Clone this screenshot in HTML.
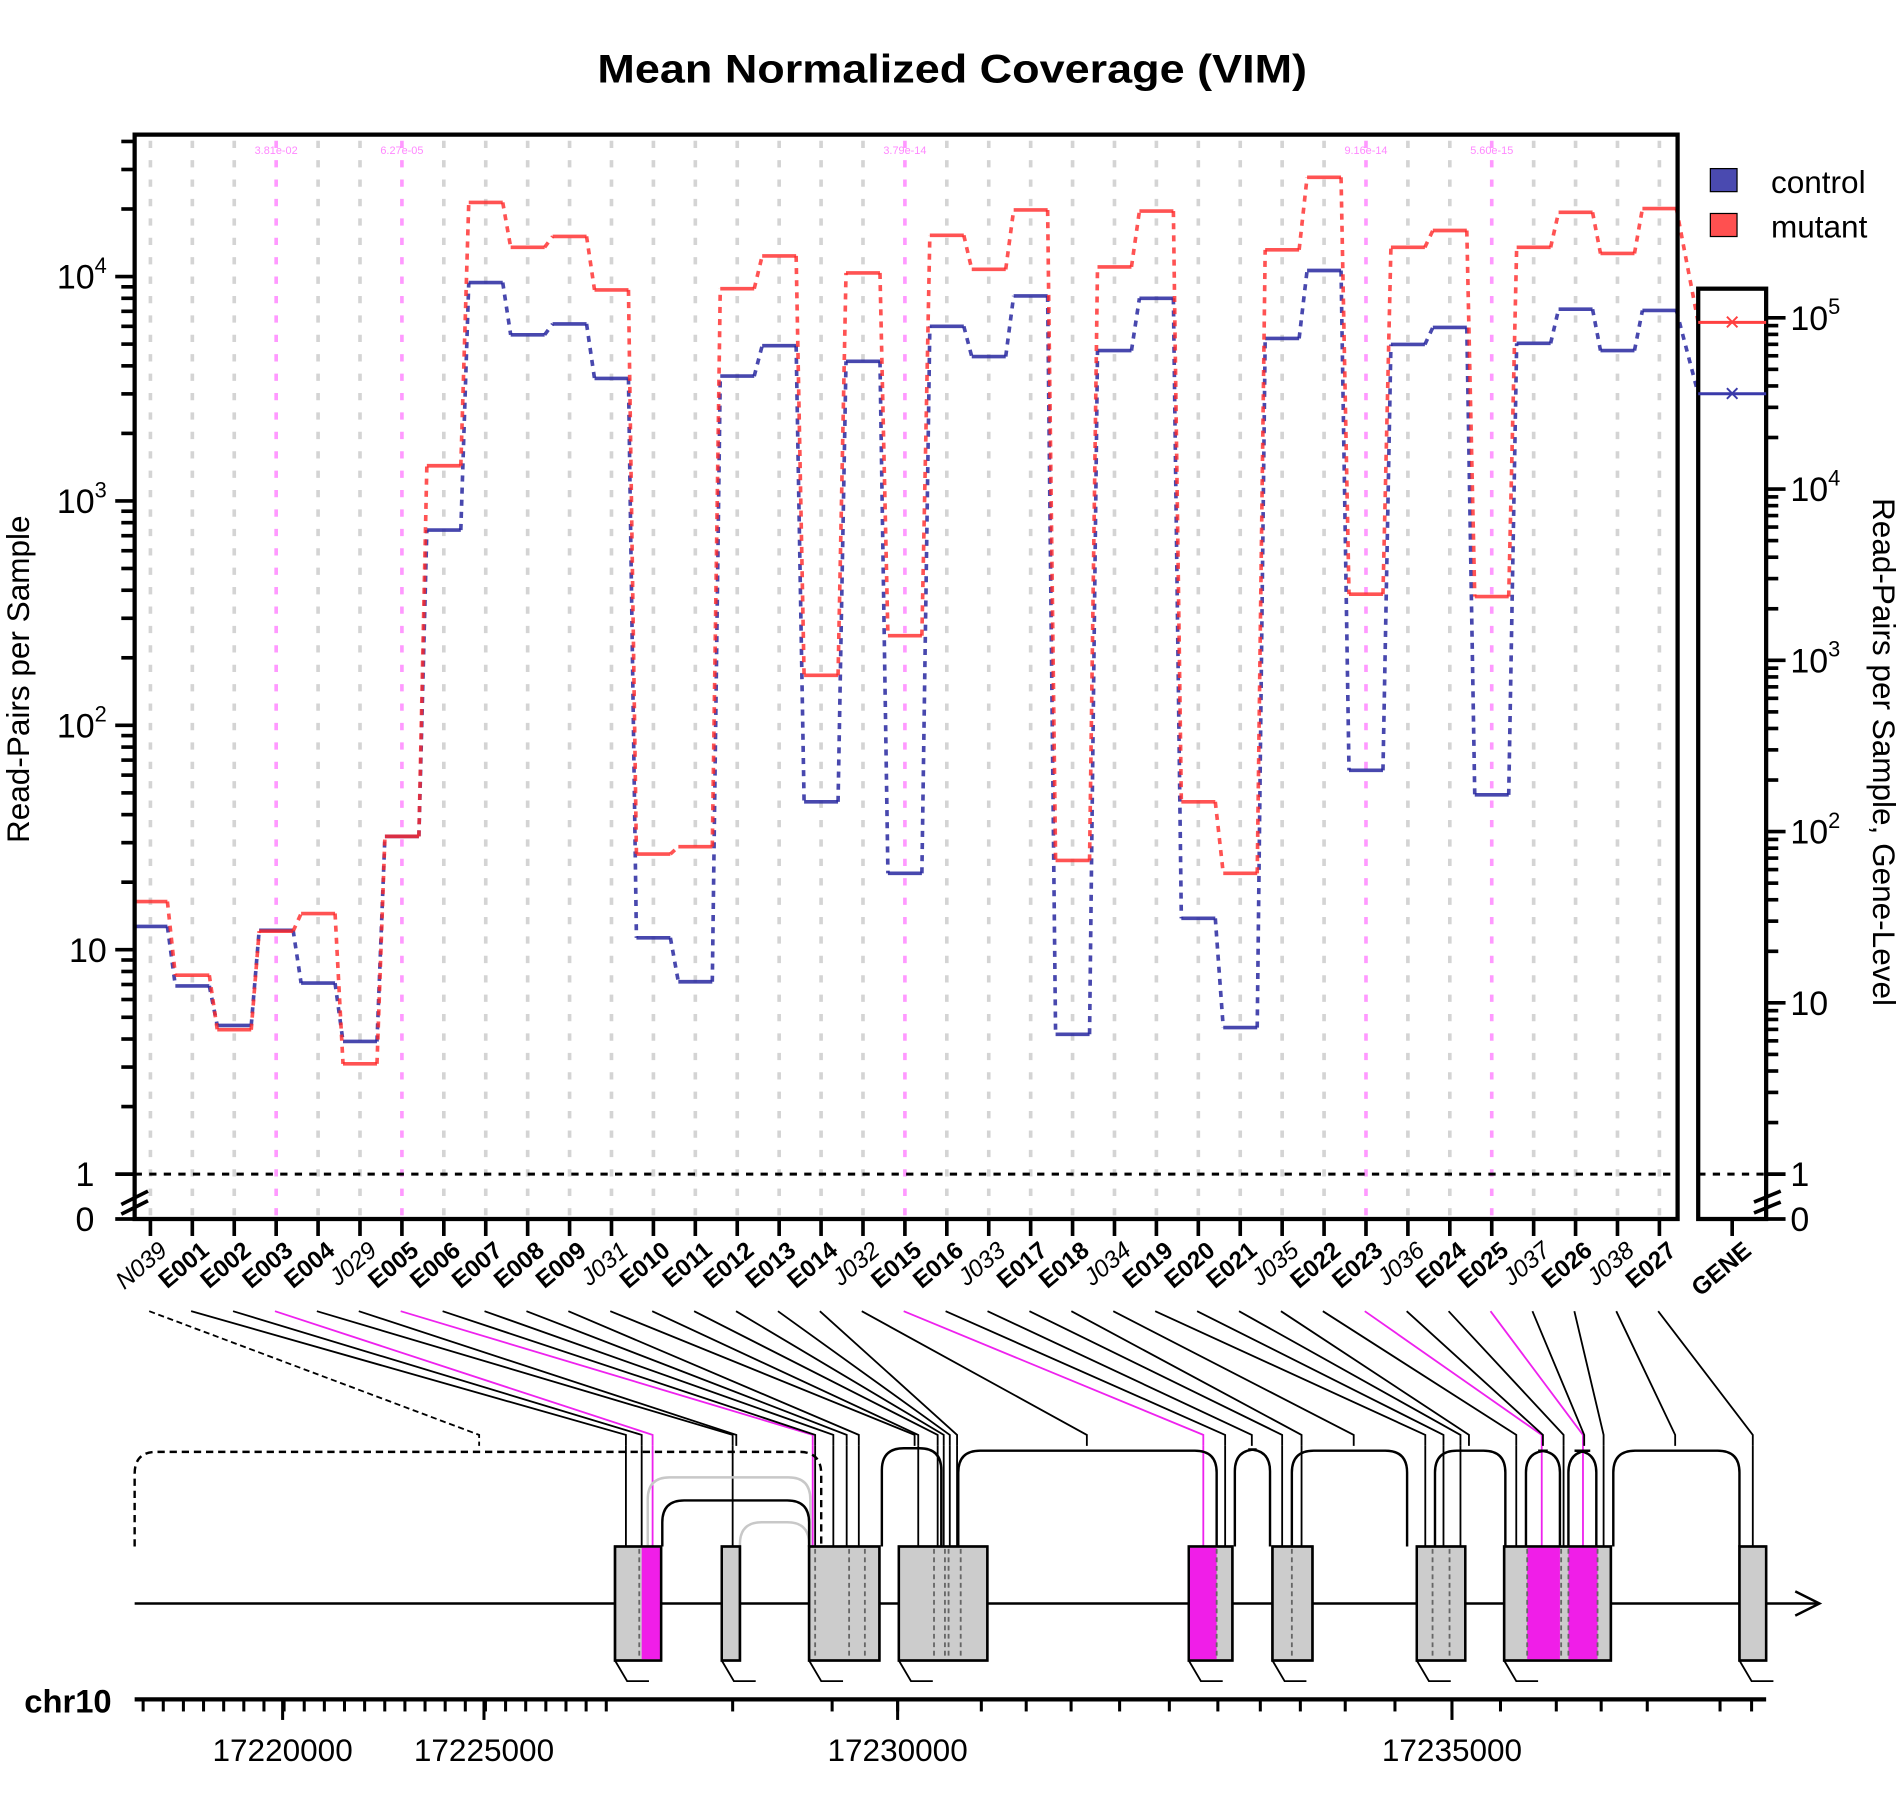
<!DOCTYPE html>
<html><head><meta charset="utf-8"><style>
html,body{margin:0;padding:0;background:#fff}
svg{display:block}
text{font-family:"Liberation Sans",Arial,sans-serif}
</style></head><body>
<svg id="c" width="1902" height="1800" viewBox="0 0 1568 1484" preserveAspectRatio="none" xmlns="http://www.w3.org/2000/svg">
<rect width="1568" height="1484" fill="#fff"/>
<text x="785" y="68" font-size="33" font-weight="bold" text-anchor="middle" textLength="585" lengthAdjust="spacingAndGlyphs">Mean Normalized Coverage (VIM)</text>
<text transform="translate(24,560) rotate(-90)" font-size="26" text-anchor="middle">Read-Pairs per Sample</text>
<text transform="translate(1544,620) rotate(90)" font-size="26" text-anchor="middle">Read-Pairs per Sample, Gene-Level</text>
<g>
<rect x="1410" y="139" width="22" height="19" fill="#4a4ab0" stroke="#000" stroke-width="1"/>
<text x="1460" y="159" font-size="26">control</text>
<rect x="1410" y="176" width="22" height="19" fill="#ff5050" stroke="#000" stroke-width="1"/>
<text x="1460" y="196" font-size="26">mutant</text>
</g>
<g id="plot"></g>
</svg>
<script>
const categories=["N039","E001","E002","E003","E004","J029","E005","E006","E007","E008","E009","J031","E010","E011","E012","E013","E014","J032","E015","E016","J033","E017","E018","J034","E019","E020","E021","J035","E022","E023","J036","E024","E025","J037","E026","J038","E027"];
const mutantValues=[16.4,7.7,4.4,12.1,14.5,3.1,32,1435,21400,13500,15100,8720,26.7,28.8,8830,12360,167,10380,251,15270,10770,19800,25,11040,19580,45.6,21.9,13150,27700,384,13500,16040,375,13500,19330,12670,20090];
const controlValues=[12.7,6.9,4.6,12.2,7.1,3.9,32,742,9400,5500,6150,3515,11.3,7.2,3600,4920,45.6,4190,21.9,6000,4400,8200,4.2,4680,8000,13.8,4.5,5300,10640,63,4980,5930,49,5040,7150,4680,7060];
const significant=["E003","E005","E015","E023","E025"];
const pValueLabels=["3.81e-02","6.27e-05","3.79e-14","9.16e-14","5.60e-15"];
const geneMutant=94000;
const geneControl=36000;
const leftTickLabels=["10","10²","10³","10⁴"];
const genomicTickLabels=["17220000","17225000","17230000","17235000"];

const NS="http://www.w3.org/2000/svg";
const P=document.getElementById('plot');
function mk(tag,attrs,parent){const e=document.createElementNS(NS,tag);for(const k in attrs)e.setAttribute(k,attrs[k]);(parent||P).appendChild(e);return e;}
const X0=124, DX=(1368-124)/36, PL=111, PR=1383, PT=111, PB=1005;
const xCol=i=>X0+i*DX;
const yL=v=>968-185*Math.log10(v);
const yR=v=>968-141.2*Math.log10(v);

categories.forEach((c,i)=>{
  const sig=significant.indexOf(c);
  const l=mk('line',{x1:xCol(i),x2:xCol(i),y1:116,y2:PB,stroke:sig>=0?'#ff99ff':'#d4d4d4','stroke-width':3,'stroke-dasharray':'6 10'});
  
  
  if(sig>=0){const t=mk('text',{x:xCol(i),y:127,'font-size':9,fill:'#ff88ff','text-anchor':'middle'});t.textContent=pValueLabels[sig];
    
    }
});
mk('line',{x1:PL,x2:PR,y1:968,y2:968,stroke:'#000','stroke-width':2.5,'stroke-dasharray':'6 6'});
mk('line',{x1:1400,x2:1456,y1:968,y2:968,stroke:'#000','stroke-width':2.5,'stroke-dasharray':'6 6'});

function series(vals,color,name){
  const g=mk('g',{});
  
  
  const w=14;
  vals.forEach((v,i)=>{
    const y=yL(v);
    const s=mk('line',{x1:xCol(i)-w,x2:xCol(i)+w,y1:y,y2:y,stroke:color,'stroke-width':3},g);
    
    
    if(i<vals.length-1){
      const y2=yL(vals[i+1]);
      const d=mk('line',{x1:xCol(i)+w,x2:xCol(i+1)-w,y1:y,y2:y2,stroke:color,'stroke-width':3,'stroke-dasharray':'5 5'},g);
      
      
    }
  });
  return g;
}
series(controlValues,'rgba(40,40,160,0.85)','control');
series(mutantValues,'rgba(255,40,40,0.8)','mutant');
mk('line',{x1:xCol(36)+14,y1:yL(mutantValues[36]),x2:1400,y2:yR(geneMutant),stroke:'rgba(255,40,40,0.8)','stroke-width':3,'stroke-dasharray':'5 5'});
mk('line',{x1:xCol(36)+14,y1:yL(controlValues[36]),x2:1400,y2:yR(geneControl),stroke:'rgba(40,40,160,0.85)','stroke-width':3,'stroke-dasharray':'5 5'});

const fr=mk('rect',{x:PL,y:PT,width:PR-PL,height:PB-PT,fill:'none',stroke:'#000','stroke-width':3.5});


const gf=mk('rect',{x:1400,y:238,width:56,height:PB-238,fill:'none',stroke:'#000','stroke-width':3.5});


[[geneMutant,'#ff4040','gene-mutant'],[geneControl,'#3a3aaa','gene-control']].forEach(([v,c,n])=>{
  const y=yR(v);
  const l=mk('line',{x1:1400,x2:1456,y1:y,y2:y,stroke:c,'stroke-width':2.5});
  
  
  const t=mk('text',{x:1428,y:y+7,'font-size':22,fill:c,'text-anchor':'middle'});t.textContent='×';
  
  
});

for(let d=0;d<5;d++){for(let m=1;m<10;m++){const v=Math.pow(10,d)*m;const y=yL(v);if(y<PT+5)continue;
  mk('line',{x1:m===1?95:100,x2:PL,y1:y,y2:y,stroke:'#000','stroke-width':3});}}
leftTickLabels.forEach((lab,k)=>{
  const y=yL(Math.pow(10,k+1));
  const t=mk('text',{x:88,y:y+10,'font-size':28,'text-anchor':'end'});
  if(k===0)t.textContent='10';else{t.textContent='10';const s=mk('tspan',{dy:-13,'font-size':18},t);s.textContent=String(k+1);}
  
  
});
[['1',968],['0',1005]].forEach(([s,y])=>{const t=mk('text',{x:70,y:y+10,'font-size':28,'text-anchor':'middle'});t.textContent=s;});
mk('line',{x1:95,x2:PL,y1:1005,y2:1005,stroke:'#000','stroke-width':3});
mk('line',{x1:100,y1:993,x2:122,y2:982,stroke:'#000','stroke-width':3});
mk('line',{x1:100,y1:1001,x2:122,y2:990,stroke:'#000','stroke-width':3});
for(let d=0;d<6;d++){for(let m=1;m<10;m++){const v=Math.pow(10,d)*m;const y=yR(v);if(y<242)continue;
  mk('line',{x1:1456,x2:m===1?1472:1466,y1:y,y2:y,stroke:'#000','stroke-width':3});}}
for(let k=1;k<=5;k++){const y=yR(Math.pow(10,k));const t=mk('text',{x:1476,y:y+10,'font-size':28});
  if(k===1)t.textContent='10';else{t.textContent='10';const s=mk('tspan',{dy:-13,'font-size':18},t);s.textContent=String(k);}}
[['1',968],['0',1005]].forEach(([s,y])=>{const t=mk('text',{x:1476,y:y+10,'font-size':28});t.textContent=s;});
mk('line',{x1:1456,x2:1472,y1:1005,y2:1005,stroke:'#000','stroke-width':3});
mk('line',{x1:1446,y1:991,x2:1468,y2:982,stroke:'#000','stroke-width':3});
mk('line',{x1:1446,y1:1000,x2:1468,y2:991,stroke:'#000','stroke-width':3});

const features=[395,516,529,538,604,607,670,672,687,698,708,754,757,773,778,783,789,896,992,1010,1032,1057,1073,1116,1175,1190,1204,1211,1250,1271,1272,1289,1305,1306,1322,1381,1445];
categories.forEach((c,i)=>{
  const x=xCol(i);
  mk('line',{x1:x,x2:x,y1:PB,y2:1019,stroke:'#000','stroke-width':3});
  const isE=c[0]==='E';
  const t=mk('text',{transform:`translate(${x+15},1033) rotate(-40)`,'font-size':20,'text-anchor':'end','font-weight':isE?'bold':'normal','font-style':isE?'normal':'italic'});
  t.textContent=c;
  
  
  const sig=significant.indexOf(c)>=0;
  const col=sig?'#ee22ee':'#000';
  const pl=mk('polyline',{points:`${x-1},1081 ${features[i]},1183 ${features[i]},1192`,fill:'none',stroke:col,'stroke-width':1.5,'stroke-dasharray':c==='N039'?'5 3':'none'});
  
  
  if(c[0]==='E'){mk('line',{x1:features[i],x2:features[i],y1:1192,y2:1275,stroke:col,'stroke-width':1.5});}
});
mk('line',{x1:1428,x2:1428,y1:PB,y2:1019,stroke:'#000','stroke-width':3});
const gl=mk('text',{transform:'translate(1445,1033) rotate(-40)','font-size':20,'font-weight':'bold','text-anchor':'end'});gl.textContent='GENE';



const gm=mk('g',{});


mk('line',{x1:111,x2:1500,y1:1322,y2:1322,stroke:'#000','stroke-width':2},gm);
mk('polyline',{points:'1480,1312 1500,1322 1480,1332',fill:'none',stroke:'#000','stroke-width':2},gm);
function arc(x1,x2,top,col,dash){return mk('path',{d:`M${x1},1275 L${x1},${top+18} Q${x1},${top} ${x1+18},${top} L${x2-18},${top} Q${x2},${top} ${x2},${top+18} L${x2},1275`,fill:'none',stroke:col,'stroke-width':2,'stroke-dasharray':dash||'none'},gm);}
arc(111,677,1197,'#000','6 4');
arc(534,668,1218,'#c8c8c8');
arc(610,667,1255,'#c8c8c8');
arc(546,667,1237,'#000');
arc(727,776,1194,'#000');
arc(790,1003,1196,'#000');
arc(1018,1047,1195,'#000');
arc(1065,1160,1196,'#000');
arc(1183,1241,1196,'#000');
arc(1258,1286,1196,'#000');
arc(1293,1316,1196,'#000');
arc(1330,1434,1196,'#000');
const exons=[[507,545],[595,610],[667,725],[741,814],[980,1016],[1049,1082],[1168,1208],[1240,1328],[1434,1456]];
exons.forEach(([a,b])=>{const r=mk('rect',{x:a,y:1275,width:b-a,height:94,fill:'#cccccc',stroke:'#000','stroke-width':2},gm);
  
  
  mk('polyline',{points:`${a},1369 ${a+10},1386 ${a+28},1386`,fill:'none',stroke:'#000','stroke-width':1.5},gm);});
[[529,545],[980,1003],[1259,1286],[1293,1317]].forEach(([a,b])=>{mk('rect',{x:a,y:1276,width:b-a,height:92,fill:'#f01ee8'},gm);});
[527,672,700,713,770,779,782,792,1003,1065,1181,1195,1259,1287,1293,1317].forEach(x=>mk('line',{x1:x,x2:x,y1:1277,y2:1367,stroke:'#666','stroke-width':1.5,'stroke-dasharray':'4 3'},gm));
exons.forEach(([a,b])=>mk('rect',{x:a,y:1275,width:b-a,height:94,fill:'none',stroke:'#000','stroke-width':2},gm));

const ga=mk('g',{});


mk('line',{x1:111,x2:1456,y1:1401,y2:1401,stroke:'#000','stroke-width':3.5},ga);
for(let x=118;x<505;x+=16.6)mk('line',{x1:x,x2:x,y1:1401,y2:1411,stroke:'#000','stroke-width':2.5},ga);
[604,686,740,809,846,883,923,964,1004,1039,1072,1109,1150,1197,1237,1283,1320,1358,1418,1444].forEach(x=>mk('line',{x1:x,x2:x,y1:1401,y2:1411,stroke:'#000','stroke-width':2.5},ga));
[233,399,740,1197].forEach((x,k)=>{mk('line',{x1:x,x2:x,y1:1401,y2:1418,stroke:'#000','stroke-width':2.5},ga);
  const t=mk('text',{x:x,y:1452,'font-size':26,'text-anchor':'middle'},ga);t.textContent=genomicTickLabels[k];
  
  });
const cl=mk('text',{x:20,y:1412,'font-size':27,'font-weight':'bold'},ga);cl.textContent='chr10';


</script>
</body></html>
